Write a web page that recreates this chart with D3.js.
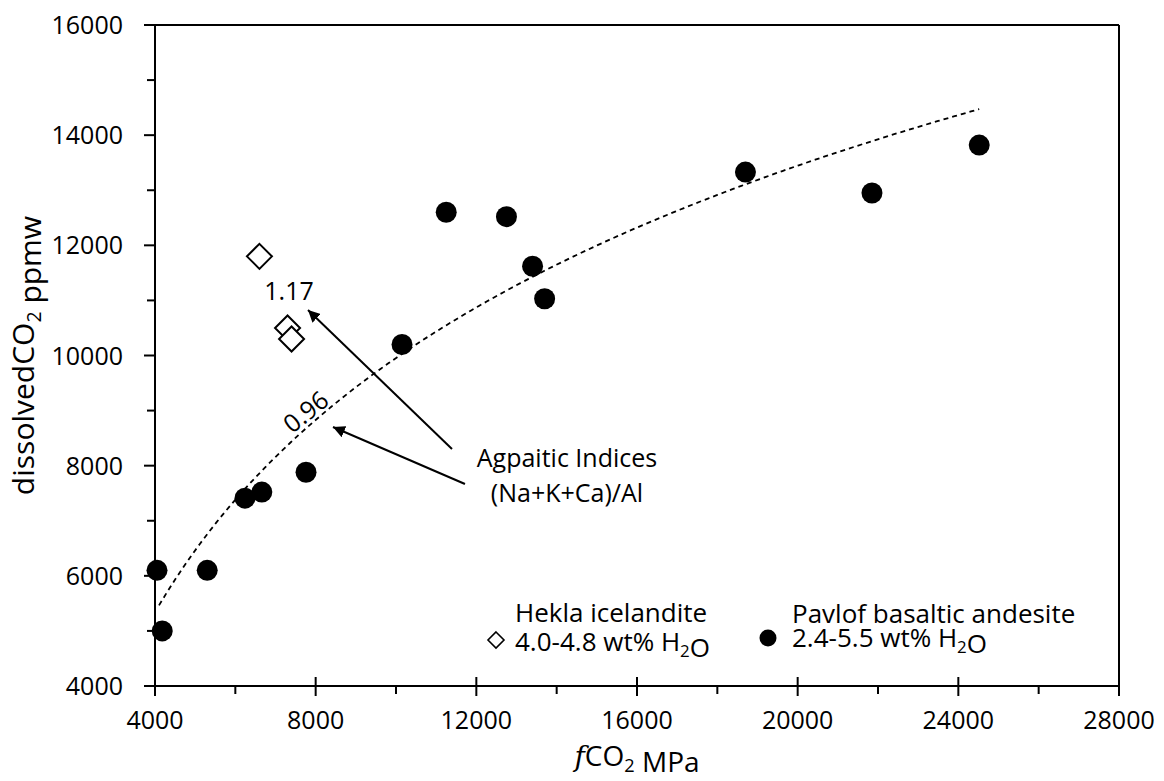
<!DOCTYPE html>
<html><head><meta charset="utf-8">
<script src="https://cdn.jsdelivr.net/npm/d3@7"></script>
<style>
body{margin:0;background:#fff}
svg text{font-family:"Open Sans",sans-serif;fill:#000}
</style>
</head><body>
<svg id="c" width="1164" height="781"></svg>
<script>
// ---- data ----
const pavlofX = [4050, 4180, 5300, 6240, 6660, 7760, 10150, 11250, 12750, 13400, 13700, 18700, 21850, 24520];
const pavlofY = [6100, 5000, 6100, 7410, 7520, 7880, 10200, 12600, 12520, 11620, 11030, 13330, 12950, 13820];
const heklaX = [6600, 7300, 7400];
const heklaY = [11800, 10500, 10300];
const xTicks = [4000, 8000, 12000, 16000, 20000, 24000, 28000];
const xMinor = [6000, 10000, 14000, 18000, 22000, 26000];
const yTicks = [4000, 6000, 8000, 10000, 12000, 14000, 16000];
const yMinor = [5000, 7000, 9000, 11000, 13000, 15000];

const svg = d3.select("#c");
const L = 155, T = 25, R = 1119, B = 686;
const x = d3.scaleLinear().domain([4000, 28000]).range([L, R]);
const y = d3.scaleLinear().domain([4000, 16000]).range([B, T]);

// helper for rich text with subscripts
function rich(t, parts, fs) {
  parts.forEach(p => {
    if (p.sub) {
      t.append("tspan").attr("font-size", fs * 0.65).attr("dy", fs * 0.22).text(p.s);
      t.append("tspan").attr("dy", -fs * 0.22).text("");
    } else if (p.it) {
      t.append("tspan").attr("font-family", "DejaVu Serif").attr("font-style", "italic").text(p.s);
    } else {
      t.append("tspan").text(p.s);
    }
  });
}

// ---- trendline (logarithmic least-squares fit of Pavlof data) ----
const lnx = pavlofX.map(Math.log);
const mL = d3.mean(lnx), mY = d3.mean(pavlofY);
const slope = d3.sum(lnx.map((l, i) => (l - mL) * (pavlofY[i] - mY))) / d3.sum(lnx.map(l => (l - mL) ** 2));
const icpt = mY - slope * mL;
const x0 = 4100, x1 = d3.max(pavlofX);
const fitPts = d3.range(0, 101).map(i => { const xv = x0 + (x1 - x0) * i / 100; return [xv, slope * Math.log(xv) + icpt]; });
svg.append("path")
  .attr("d", d3.line().x(d => x(d[0])).y(d => y(d[1]))(fitPts))
  .attr("fill", "none").attr("stroke", "#000").attr("stroke-width", 1.8)
  .attr("stroke-dasharray", "5,4");

// ---- axes frame ----
const ax = svg.append("g").attr("stroke", "#000").attr("stroke-width", 2);
ax.append("line").attr("x1", L).attr("x2", R).attr("y1", T).attr("y2", T);
ax.append("line").attr("x1", R).attr("x2", R).attr("y1", T).attr("y2", B);
ax.append("line").attr("x1", L).attr("x2", R).attr("y1", B).attr("y2", B);
ax.append("line").attr("x1", L).attr("x2", L).attr("y1", T).attr("y2", B);
// x ticks
xTicks.forEach(v => ax.append("line").attr("x1", x(v)).attr("x2", x(v)).attr("y1", B - 9).attr("y2", B + 10));
xMinor.forEach(v => ax.append("line").attr("x1", x(v)).attr("x2", x(v)).attr("y1", B).attr("y2", B + 8));
// y ticks
yTicks.forEach(v => ax.append("line").attr("x1", L - 11).attr("x2", L).attr("y1", y(v)).attr("y2", y(v)));
yMinor.forEach(v => ax.append("line").attr("x1", L - 8).attr("x2", L).attr("y1", y(v)).attr("y2", y(v)));

// tick labels
svg.append("g").selectAll("text").data(xTicks).join("text")
  .attr("x", d => x(d)).attr("y", 729).attr("text-anchor", "middle").attr("font-size", 25).text(d => d);
svg.append("g").selectAll("text").data(yTicks).join("text")
  .attr("x", 123).attr("y", d => y(d)).attr("dy", "0.36em").attr("text-anchor", "end").attr("font-size", 25).text(d => d);

// axis titles
const yt = svg.append("text").attr("transform", `translate(34,${(T + B) / 2}) rotate(-90)`)
  .attr("text-anchor", "middle").attr("font-size", 30);
rich(yt, [{s: "dissolvedCO"}, {s: "2", sub: true}, {s: " ppmw"}], 30);
const xt = svg.append("text").attr("x", (L + R) / 2).attr("y", 766).attr("text-anchor", "middle").attr("font-size", 28);
rich(xt, [{s: "f", it: true}, {s: "CO"}, {s: "2", sub: true}, {s: " MPa"}], 28);

// ---- markers ----
svg.append("g").selectAll("circle").data(pavlofX).join("circle")
  .attr("cx", d => x(d)).attr("cy", (d, i) => y(pavlofY[i])).attr("r", 10.5).attr("fill", "#000");
const dia = (cx, cy, h) => `M${cx},${cy - h}L${cx + h},${cy}L${cx},${cy + h}L${cx - h},${cy}Z`;
svg.append("g").selectAll("path").data(heklaX).join("path")
  .attr("d", (d, i) => dia(x(d), y(heklaY[i]), 12.5))
  .attr("fill", "#fff").attr("stroke", "#000").attr("stroke-width", 2);

// ---- annotations ----
svg.append("defs").append("marker").attr("id", "ah").attr("viewBox", "0 0 10 10")
  .attr("refX", 10).attr("refY", 5).attr("markerWidth", 6).attr("markerHeight", 6)
  .attr("markerUnits", "strokeWidth").attr("orient", "auto")
  .append("path").attr("d", "M0,0L10,5L0,10Z").attr("fill", "#000");
const arrows = [[11394, 8303, 7809, 10826], [11717, 7667, 8431, 8702]];
arrows.forEach(a => svg.append("line")
  .attr("x1", x(a[0])).attr("y1", y(a[1])).attr("x2", x(a[2])).attr("y2", y(a[3]))
  .attr("stroke", "#000").attr("stroke-width", 2).attr("marker-end", "url(#ah)"));

svg.append("text").attr("x", x(7336)).attr("y", y(11008)).attr("text-anchor", "middle").attr("font-size", 25).text("1.17");
svg.append("text").attr("transform", `translate(306,412) rotate(-39)`).attr("text-anchor", "middle")
  .attr("dy", "0.35em").attr("font-size", 25).text("0.96");
svg.append("text").attr("x", 567).attr("y", 467).attr("text-anchor", "middle").attr("font-size", 25).text("Agpaitic Indices");
svg.append("text").attr("x", 567).attr("y", 502).attr("text-anchor", "middle").attr("font-size", 25).text("(Na+K+Ca)/Al");

// ---- legend ----
const lg = svg.append("g").attr("font-size", 26);
lg.append("text").attr("x", 515).attr("y", 622).attr("font-size", 26).text("Hekla icelandite");
rich(lg.append("text").attr("x", 515).attr("y", 651).attr("font-size", 26), [{s: "4.0-4.8 wt% H"}, {s: "2", sub: true}, {s: "O"}], 26);
lg.append("path").attr("d", dia(496, 640, 8)).attr("fill", "#fff").attr("stroke", "#000").attr("stroke-width", 1.6);
lg.append("text").attr("x", 792).attr("y", 623).attr("font-size", 26).text("Pavlof basaltic andesite");
rich(lg.append("text").attr("x", 792).attr("y", 647).attr("font-size", 26), [{s: "2.4-5.5 wt% H"}, {s: "2", sub: true}, {s: "O"}], 26);
lg.append("circle").attr("cx", 768).attr("cy", 638).attr("r", 8.5).attr("fill", "#000");
</script>
</body></html>
